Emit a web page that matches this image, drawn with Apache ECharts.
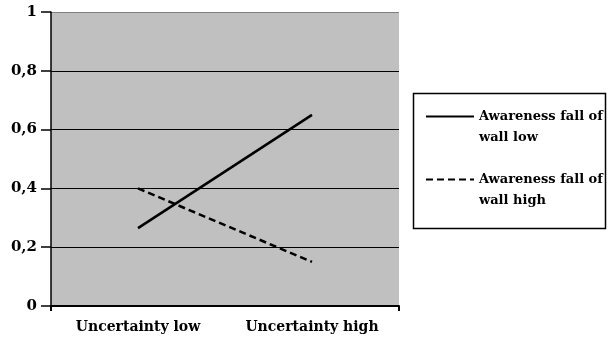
<!DOCTYPE html>
<html>
<head>
<meta charset="utf-8">
<script src="https://cdn.jsdelivr.net/npm/echarts@6/dist/echarts.min.js"></script>
<style>
  html, body { margin: 0; padding: 0; background: #fff; }
  #chart { width: 608px; height: 342px; }
</style>
</head>
<body>
<div id="chart"></div>
<script>
const categories = ['Uncertainty low', 'Uncertainty high'];
const wallLow = [0.265, 0.65];
const wallHigh = [0.40, 0.15];
const seriesNames = ['Awareness fall of\nwall low', 'Awareness fall of\nwall high'];

const labelFont = {
    color: '#000',
    fontFamily: 'DejaVu Serif',
    fontWeight: 'bold'
};

const initChart = () => {
    var chartDom = document.getElementById('chart');
    var myChart = echarts.init(chartDom);
    const option = {
        animation: false,
        grid: {
            left: 51,
            top: 12,
            right: 209,
            bottom: 36,
            show: true,
            backgroundColor: '#c0c0c0',
            borderWidth: 0
        },
        legend: {
            orient: 'vertical',
            left: 425,
            top: 85,
            padding: 0,
            itemGap: 0,
            itemWidth: 48,
            itemHeight: 14,
            data: seriesNames,
            itemStyle: { opacity: 0 },
            // blank first line keeps the icon level with the first text line
            formatter: function (name) { return ' \n' + name; },
            textStyle: Object.assign({}, labelFont, {
                fontSize: 13,
                lineHeight: 21
            })
        },
        graphic: [
            {
                type: 'rect',
                shape: { x: 413.5, y: 93.5, width: 192, height: 135 },
                style: { fill: 'none', stroke: '#000', lineWidth: 1.5 }
            }
        ],
        xAxis: {
            type: 'category',
            data: categories,
            boundaryGap: true,
            axisLine: { lineStyle: { color: '#000', width: 2 } },
            axisTick: {
                show: true,
                length: 5,
                interval: function (i) { return i === 0; },
                lineStyle: { color: '#000', width: 2 }
            },
            axisLabel: Object.assign({}, labelFont, { fontSize: 14, margin: 14 })
        },
        yAxis: {
            type: 'value',
            min: 0,
            max: 1,
            interval: 0.2,
            axisLine: { show: true, lineStyle: { color: '#000', width: 1.5 } },
            axisTick: { show: true, length: 10, lineStyle: { color: '#000', width: 1.5 } },
            axisLabel: Object.assign({}, labelFont, {
                fontSize: 15,
                margin: 14,
                formatter: function (v) { return String(v).replace('.', ','); }
            }),
            splitLine: {
                show: true,
                lineStyle: { color: ['#000', '#000', '#000', '#000', '#000', '#808080'], width: 1 }
            }
        },
        series: [
            {
                name: seriesNames[0],
                type: 'line',
                data: wallLow,
                symbol: 'none',
                lineStyle: { color: '#000', width: 2.5, type: 'solid' },
                itemStyle: { color: '#000' }
            },
            {
                name: seriesNames[1],
                type: 'line',
                data: wallHigh,
                symbol: 'none',
                lineStyle: { color: '#000', width: 2.5, type: [7, 4] },
                itemStyle: { color: '#000' }
            }
        ]
    };
    myChart.setOption(option);
};
initChart();
</script>
</body>
</html>
